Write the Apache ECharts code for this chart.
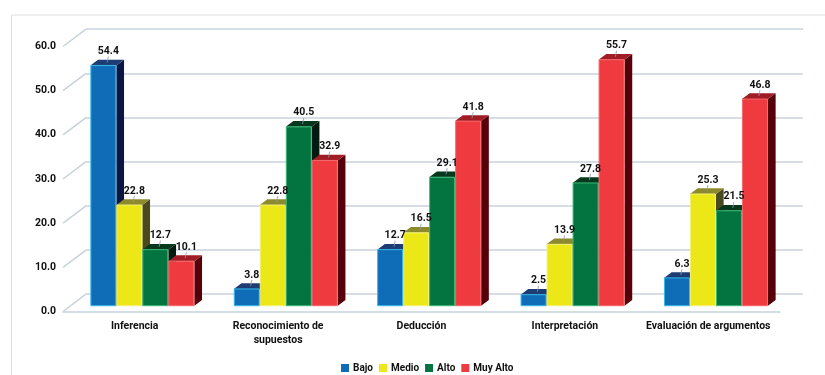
<!DOCTYPE html>
<html><head><meta charset="utf-8">
<script src="https://cdn.jsdelivr.net/npm/echarts@6/dist/echarts.min.js"></script>
<style>html,body{margin:0;padding:0;background:#fff}#c{width:825px;height:375px}</style>
</head><body><div id="c"></div>
<script>
const categories = ['Inferencia', 'Reconocimiento de\nsupuestos', 'Deducción', 'Interpretación', 'Evaluación de argumentos'];
const seriesNames = ['Bajo', 'Medio', 'Alto', 'Muy Alto'];
const bajo = [54.4, 3.8, 12.7, 2.5, 6.3];
const medio = [22.8, 22.8, 16.5, 13.9, 25.3];
const alto = [12.7, 40.5, 29.1, 27.8, 21.5];
const muyAlto = [10.1, 32.9, 41.8, 55.7, 46.8];
const yTicks = [0, 10, 20, 30, 40, 50, 60];

const values = [bajo, medio, alto, muyAlto];
const frontColors = ['#0f6cb6', '#ece817', '#03733f', '#ef3a3f'];
const topColors = ['#1e3c74', '#8c8a2c', '#07381d', '#a01d25'];
const sideColors = ['#0b1742', '#4b4a1f', '#021b0e', '#560009'];
const edgeColors = ['#35b8ea', '#f4f07a', '#3dbb78', '#f46a6e'];

const FONT = 'Roboto, Lato, sans-serif';
const GRID_LINE = '#c8d2dc';
const DX = 23, DY = 17.3;          // full floor depth
const BDX = DX / 3, BDY = DY / 3;  // bar depth / bar plane offset
const BW = 26;

const front = { left: 63, top: 46.5, width: 717, height: 265 };

function barRender(s) {
  return function (params, api) {
    const i = api.value(0), v = api.value(1);
    const t = api.coord([i, v]);
    const b = api.coord([i, 0]);
    const x0 = t[0] - 2 * BW + s * BW, x1 = x0 + BW;
    const yt = t[1], yb = b[1];
    return {
      type: 'group',
      children: [
        { type: 'polygon', shape: { points: [[x1, yb], [x1, yt], [x1 + BDX, yt - BDY], [x1 + BDX, yb - BDY]] }, style: { fill: sideColors[s] } },
        { type: 'polygon', shape: { points: [[x0, yt], [x1, yt], [x1 + BDX, yt - BDY], [x0 + BDX, yt - BDY]] }, style: { fill: topColors[s] } },
        { type: 'rect', shape: { x: x0 + 0.5, y: yt, width: BW - 1, height: yb - yt }, style: { fill: frontColors[s], stroke: edgeColors[s], lineWidth: 1 } }
      ]
    };
  };
}

function labelRender(params, api) {
  const i = api.value(0), v = api.value(1), s = api.value(2);
  const t = api.coord([i, v]);
  const x0 = t[0] - 2 * BW + s * BW;
  const yt = t[1];
  const lx = x0 + BW / 2 + 5;
  return {
    type: 'group',
    children: [
      { type: 'line', shape: { x1: x0 + BW / 2 + BDX / 2, y1: yt - BDY / 2, x2: lx, y2: yt - 9 }, style: { stroke: '#8c9aa8', lineWidth: 0.8 } },
      { type: 'text', style: { text: v.toFixed(1), x: lx, y: yt - 8.5, align: 'center', verticalAlign: 'bottom', font: 'bold 10.5px ' + FONT, fill: '#111' } }
    ]
  };
}

const barSeries = seriesNames.map((name, s) => ({
  name: name,
  type: 'custom',
  xAxisIndex: 2, yAxisIndex: 2,
  itemStyle: { color: frontColors[s] },
  renderItem: barRender(s),
  encode: { x: 0, y: 1 },
  data: values[s].map((v, i) => [i, v]),
  z: 5
}));

const labelData = [];
values.forEach((arr, s) => arr.forEach((v, i) => labelData.push([i, v, s])));

const option = {
  animation: false,
  backgroundColor: '#fff',
  graphic: [{ type: 'rect', left: 9, top: 12.5, shape: { width: 900, height: 400 }, style: { fill: 'none', stroke: '#dedede', lineWidth: 1 }, silent: true }],
  grid: [
    { left: front.left, top: front.top, width: front.width, height: front.height },
    { left: front.left + DX, top: front.top - DY, width: front.width, height: front.height },
    { left: front.left + BDX, top: front.top - BDY, width: front.width, height: front.height }
  ],
  xAxis: [
    { gridIndex: 0, type: 'category', data: categories,
      axisLine: { show: true, lineStyle: { color: GRID_LINE, width: 1.5 } },
      axisTick: { show: false },
      axisLabel: { margin: 8, interval: 0, color: '#111', fontFamily: FONT, fontWeight: 'bold', fontSize: 10.5, lineHeight: 14 } },
    { gridIndex: 1, type: 'value', show: false },
    { gridIndex: 2, type: 'category', data: categories, show: false }
  ],
  yAxis: [
    { gridIndex: 0, type: 'value', min: 0, max: 60, interval: 10,
      axisLine: { show: false }, axisTick: { show: false }, splitLine: { show: false },
      axisLabel: { margin: 7, color: '#111', fontFamily: FONT, fontWeight: 'bold', fontSize: 10.5, formatter: v => v.toFixed(1) } },
    { gridIndex: 1, type: 'value', min: 0, max: 60, interval: 10,
      axisLine: { show: false }, axisTick: { show: false }, axisLabel: { show: false },
      splitLine: { show: true, lineStyle: { color: GRID_LINE, width: 1.5 } } },
    { gridIndex: 2, type: 'value', min: 0, max: 60, interval: 10, show: false }
  ],
  legend: {
    data: seriesNames, left: 336, top: 358, icon: 'rect', itemWidth: 8, itemHeight: 8, itemGap: 6,
    textStyle: { color: '#111', fontFamily: FONT, fontWeight: 'bold', fontSize: 10, padding: [0, 0, 0, -1] }
  },
  series: [
    { type: 'custom', xAxisIndex: 0, yAxisIndex: 0, silent: true, z: 1,
      data: yTicks.map(v => [0, v]),
      renderItem: function (params, api) {
        const p = api.coord([0, api.value(1)]);
        const x = params.coordSys.x;
        return { type: 'line', shape: { x1: x, y1: p[1], x2: x + DX, y2: p[1] - DY }, style: { stroke: GRID_LINE, lineWidth: 1.5 } };
      } }
  ].concat(barSeries).concat([
    { type: 'custom', xAxisIndex: 2, yAxisIndex: 2, silent: true, z: 10,
      encode: { x: 0, y: 1 },
      data: labelData, renderItem: labelRender }
  ])
};

const chart = echarts.init(document.getElementById('c'), null, { renderer: 'canvas' });
chart.setOption(option);
</script>
</body></html>
